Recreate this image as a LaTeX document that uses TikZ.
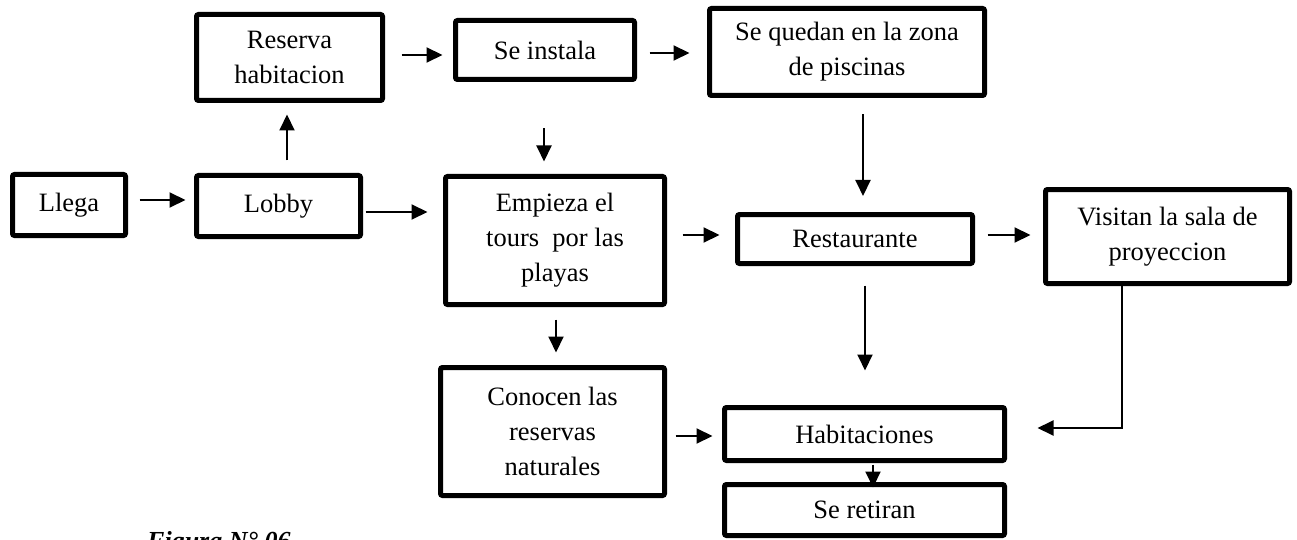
\documentclass[tikz,border=0pt]{standalone}
\usepackage{fontspec}
\setmainfont{Liberation Serif}
\usetikzlibrary{arrows.meta,calc}

\begin{document}
\begin{tikzpicture}[
        x=1pt, y=-1pt,
        caja/.style={
            draw=black,
            line width=5pt,
            rounded corners=2pt,
            fill=white,
            inner sep=0pt,
            align=center,
            font=\fontsize{26.5}{35}\selectfont
        },
        flecha/.style={
            line width=2pt,
            -{Triangle[length=16pt,width=15pt]}
        }
    ]
    \useasboundingbox (0,0) rectangle (1297,540);

    % Cajas
    \node[caja, minimum width=113pt, minimum height=61pt]  (llega)        at (69,205)     {Llega};
    \node[caja, minimum width=164pt, minimum height=61pt]  (lobby)        at (278.5,206)  {Lobby};
    \node[caja, minimum width=186pt, minimum height=86pt]  (reserva)      at (289.5,57.5) {Reserva\\habitacion};
    \node[caja, minimum width=179pt, minimum height=59pt]  (instala)      at (545,50)     {Se instala};
    \node[caja, minimum width=275pt, minimum height=87pt]  (piscinas)     at (847,52)     {Se quedan en la zona\\de piscinas};
    \node[caja, minimum width=219pt, minimum height=128pt] (empieza)      at (555,240.5)  {Empieza el\\tours~ por las\\playas};
    \node[caja, minimum width=235pt, minimum height=49pt]  (restaurante)  at (855,239)    {Restaurante};
    \node[caja, minimum width=244pt, minimum height=94pt]  (visitan)      at (1167.5,236.5) {Visitan la sala de\\proyeccion};
    \node[caja, minimum width=224pt, minimum height=128pt] (conocen)      at (552.5,431.5) {Conocen las\\reservas\\naturales};
    \node[caja, minimum width=280pt, minimum height=53pt]  (habitaciones) at (864.5,434)  {Habitaciones};
    \node[caja, minimum width=280pt, minimum height=51pt]  (retiran)      at (864.5,510)  {Se retiran};

    % Leyenda
    \node[anchor=base west, inner sep=0pt, font=\fontsize{26}{30}\selectfont\bfseries\itshape] (figura) at (147,549) {Figura N° 06};

    % Flechas
    \draw[flecha] ($(llega.east|-0,200)+(11.5,0)$) -- ($(lobby.west|-0,200)+(-8.5,0)$);
    \draw[flecha] ($(lobby.north)+(8.5,-12.5)$) -- ($(lobby.north|-reserva.south)+(8.5,11.5)$);
    \draw[flecha] ($(lobby.east|-0,212)+(2.5,0)$) -- ($(empieza.west|-0,212)+(-15.5,0)$);
    \draw[flecha] ($(reserva.east|-0,55)+(16.5,0)$) -- ($(instala.west|-0,55)+(-10.5,0)$);
    \draw[flecha] ($(instala.east|-0,53)+(12.5,0)$) -- ($(piscinas.west|-0,53)+(-17.5,0)$);
    \draw[flecha] ($(instala.south)+(-1,46.5)$) -- ($(instala.south|-empieza.north)+(-1,-12.5)$);
    \draw[flecha] ($(piscinas.south)+(16,16.5)$) -- ($(piscinas.south|-restaurante.north)+(16,-16)$);
    \draw[flecha] ($(empieza.east|-0,235)+(15.5,0)$) -- ($(restaurante.west|-0,235)+(-15.5,0)$);
    \draw[flecha] ($(restaurante.east|-0,235)+(12.5,0)$) -- ($(visitan.west|-0,235)+(-12.5,0)$);
    \draw[flecha] ($(empieza.south)+(1,12.5)$) -- ($(empieza.south|-conocen.north)+(1,-12.5)$);
    \draw[flecha] ($(restaurante.south)+(10,19.5)$) -- ($(restaurante.south|-habitaciones.north)+(10,-34.5)$);
    \draw[flecha] ($(conocen.east|-0,436)+(8.5,0)$) -- ($(habitaciones.west|-0,436)+(-9.5,0)$);
    \draw[flecha] ($(visitan.south)+(-45.5,0)$) |- ($(habitaciones.east|-0,428)+(30.5,0)$);
    \draw[flecha] ($(habitaciones.south)+(8.5,1.5)$) -- ($(habitaciones.south|-retiran.north)+(8.5,5.5)$);

\end{tikzpicture}
\end{document}
